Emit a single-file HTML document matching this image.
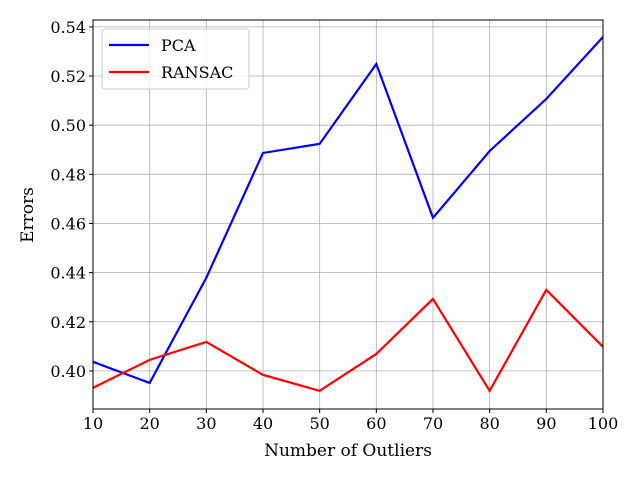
<!DOCTYPE html>
<html><head><meta charset="utf-8"><style>
body{margin:0;background:#fff}
svg{display:block;font-family:"DejaVu Serif","Liberation Serif",serif}
</style></head><body>
<svg id="c" width="640" height="480"></svg>
<script>
const xs=[10,20,30,40,50,60,70,80,90,100];
const pca=[0.4037,0.3951,0.4379,0.4887,0.4924,0.5249,0.4623,0.4895,0.5107,0.5359];
const ransac=[0.3931,0.4045,0.4118,0.3984,0.3919,0.4069,0.4293,0.3919,0.4330,0.4098];
const xTicks=[10,20,30,40,50,60,70,80,90,100];
const yTicks=[0.40,0.42,0.44,0.46,0.48,0.50,0.52,0.54];
const L=93,R=603,T=20,B=409,ymin=0.3845,ymax=0.5428;
const sx=v=>L+(v-10)/90*(R-L), sy=v=>B-(v-ymin)/(ymax-ymin)*(B-T);
const svg=document.getElementById('c');const NS='http://www.w3.org/2000/svg';
function mk(t,a,p){const e=document.createElementNS(NS,t);for(const k in a)e.setAttribute(k,a[k]);(p||svg).appendChild(e);return e;}
xTicks.forEach(v=>{const x=sx(v);
const g=mk('line',{x1:x,x2:x,y1:T,y2:B,stroke:'#b0b0b0','stroke-width':0.8});


mk('line',{x1:x,x2:x,y1:B,y2:B+4,stroke:'#000'});
const t=mk('text',{x:x,y:B+20,'text-anchor':'middle','font-size':16});t.textContent=v;

});
yTicks.forEach(v=>{const y=sy(v);
const g=mk('line',{x1:L,x2:R,y1:y,y2:y,stroke:'#b0b0b0','stroke-width':0.8});


mk('line',{x1:L-4,x2:L,y1:y,y2:y,stroke:'#000'});
const t=mk('text',{x:L-7,y:y+6,'text-anchor':'end','font-size':16});t.textContent=v.toFixed(2);

});
function series(d,c,n){const p=mk('polyline',{points:d.map((v,i)=>sx(xs[i])+','+sy(v)).join(' '),fill:'none',stroke:c,'stroke-width':2.2});

}
series(pca,'#0000ff','pca-line');series(ransac,'#ff0000','ransac-line');
const f=mk('rect',{x:L,y:T,width:R-L,height:B-T,fill:'none',stroke:'#000','stroke-width':1});


</script>
<svg style="position:absolute;left:0;top:0" width="640" height="480">
<g font-family="DejaVu Serif, Liberation Serif, serif">
<text x="348" y="456" text-anchor="middle" font-size="17">Number of Outliers</text>
<text transform="translate(33,215) rotate(-90)" text-anchor="middle" font-size="17">Errors</text>
<g>
<rect x="102" y="29" width="147" height="60" rx="3" fill="#fff" fill-opacity="0.8" stroke="#ccc"/>
<line x1="109" x2="149" y1="45" y2="45" stroke="#0000ff" stroke-width="2.2"/>
<text x="161" y="51" font-size="16">PCA</text>
<line x1="109" x2="149" y1="72" y2="72" stroke="#ff0000" stroke-width="2.2"/>
<text x="161" y="78" font-size="16">RANSAC</text>
</g></g></svg>
</body></html>
